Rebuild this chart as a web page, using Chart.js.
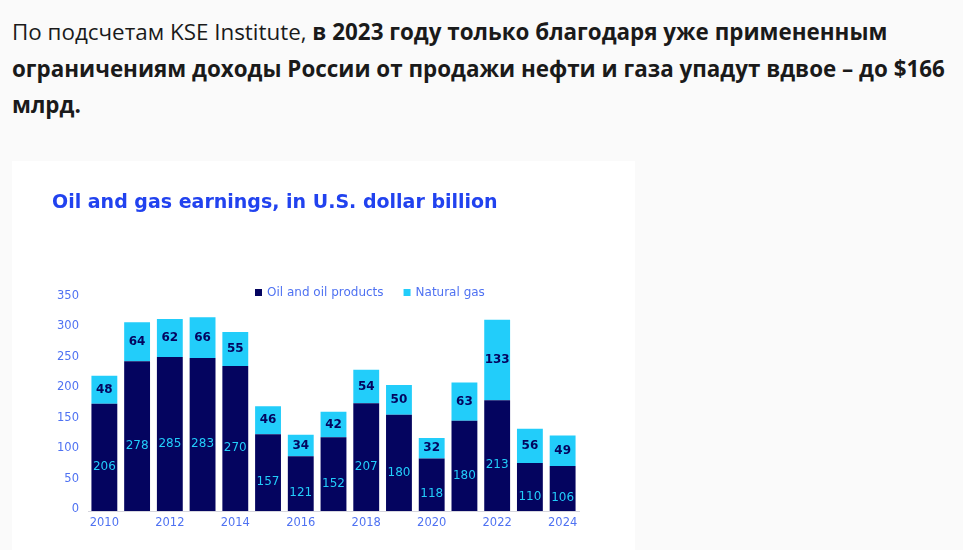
<!DOCTYPE html>
<html lang="ru">
<head>
<meta charset="utf-8">
<title>Oil and gas earnings</title>
<script src="https://cdn.jsdelivr.net/npm/chart.js@4.4.1/dist/chart.umd.min.js"></script>
<style>
  html, body { margin: 0; padding: 0; }
  body { width: 963px; height: 550px; overflow: hidden; background: #fafafa; position: relative; }
  #lead {
    position: absolute; left: 12px; top: 14px; width: 945px; margin: 0;
    font-family: "Open Sans", sans-serif; font-size: 22.4px; line-height: 36.5px; color: #1a1a1a;
  }
  #lead b { font-weight: 700; }
  #box { position: absolute; left: 12px; top: 161px; width: 623px; height: 389px; background: #fff; }
</style>
</head>
<body>
<p id="lead">По подсчетам KSE Institute, <b>в 2023 году только благодаря уже примененным ограничениям доходы России от продажи нефти и газа упадут вдвое – до $166 млрд.</b></p>
<div id="box"><canvas id="myChart" width="623" height="389"></canvas></div>

<script>
'use strict';

//Global Variables
var years = ['2010', '2011', '2012', '2013', '2014', '2015', '2016', '2017', '2018', '2019', '2020', '2021', '2022', '2023', '2024'];
//bar heights as they are drawn in the picture
var oilValues = [176, 246, 253, 251, 238, 126, 90, 121, 177, 158, 86, 148, 182, 79, 74];
var gasValues = [46, 64, 62, 67, 56, 46, 35, 42, 55, 49, 34, 63, 132, 56, 50];
//numbers printed on the bars
var oilLabels = [206, 278, 285, 283, 270, 157, 121, 152, 207, 180, 118, 180, 213, 110, 106];
var gasLabels = [48, 64, 62, 66, 55, 46, 34, 42, 54, 50, 32, 63, 133, 56, 49];
var yTicks = [0, 50, 100, 150, 200, 250, 300, 350];

var navy = '#04045f';
var cyan = '#22cdfa';
var tickBlue = '#4f72f2';
var font = '"DejaVu Sans", sans-serif';

//numbers inside each bar segment
var barLabels = {
  id: 'barLabels',
  afterDatasetsDraw(chart) {
    var ctx = chart.ctx;
    var sets = [
      { labels: oilLabels, color: cyan, weight: '400', shift: 9.5 },
      { labels: gasLabels, color: navy, weight: '700', shift: 0 }
    ];
    ctx.save();
    ctx.textAlign = 'center';
    ctx.textBaseline = 'middle';
    sets.forEach(function(s, i) {
      ctx.fillStyle = s.color;
      ctx.font = s.weight + ' 12px ' + font;
      chart.getDatasetMeta(i).data.forEach(function(bar, j) {
        var p = bar.getProps(['x', 'y', 'base'], true);
        ctx.fillText(String(s.labels[j]), p.x, (p.y + p.base) / 2 + s.shift);
      });
    });
    ctx.restore();
  }
};

//legend sits over the plot, so draw it by hand
var topLegend = {
  id: 'topLegend',
  afterDraw(chart, args, opts) {
    var ctx = chart.ctx;
    var x = opts.x;
    ctx.save();
    ctx.font = '400 12px ' + font;
    ctx.textBaseline = 'middle';
    chart.data.datasets.forEach(function(ds) {
      ctx.fillStyle = ds.backgroundColor;
      ctx.fillRect(x, opts.y - 3, 7, 7);
      x += 12;
      ctx.fillStyle = tickBlue;
      ctx.fillText(ds.label, x, opts.y + 0.5);
      x += ctx.measureText(ds.label).width + 20;
    });
    ctx.restore();
  }
};

var ctx = document.getElementById('myChart').getContext('2d');
//eslint-disable-next-line no-undef, no-unused-vars
var chart = new Chart(ctx, {
  type: 'bar',
  data: {
    labels: years,
    datasets: [{
      label: 'Oil and oil products',
      backgroundColor: navy,
      data: oilValues
    }, {
      label: 'Natural gas',
      backgroundColor: cyan,
      data: gasValues
    }]
  },
  options: {
    responsive: false,
    animation: false,
    layout: { padding: { left: 40, right: 56, top: 0, bottom: 0 } },
    datasets: { bar: { barPercentage: 0.79, categoryPercentage: 1 } },
    plugins: {
      legend: { display: false },
      tooltip: { enabled: false },
      title: {
        display: true,
        text: 'Oil and gas earnings, in U.S. dollar billion',
        align: 'start',
        color: '#2142ef',
        font: { family: font, size: 19, weight: '700' },
        padding: { top: 31, bottom: 83 }
      },
      topLegend: { x: 243, y: 131 }
    },
    scales: {
      x: {
        stacked: true,
        grid: { display: false, drawTicks: false },
        border: { display: true, color: '#d6d6de', width: 1 },
        afterFit: function(s) { s.height = 39; },
        ticks: {
          autoSkip: false,
          maxRotation: 0,
          padding: 5,
          color: tickBlue,
          font: { family: font, size: 11.5, weight: '400' },
          callback: function(v, i) { return i % 2 === 0 ? years[i] : ''; }
        }
      },
      y: {
        stacked: true,
        min: 0,
        max: 350,
        grid: { display: false, drawTicks: false },
        border: { display: false },
        afterFit: function(s) { s.width = 36; },
        afterBuildTicks: function(s) { s.ticks = yTicks.map(function(v) { return { value: v }; }); },
        ticks: {
          padding: 9,
          labelOffset: -2,
          color: tickBlue,
          font: { family: font, size: 11.5, weight: '400' }
        }
      }
    }
  },
  plugins: [barLabels, topLegend]
});
</script>
</body>
</html>
